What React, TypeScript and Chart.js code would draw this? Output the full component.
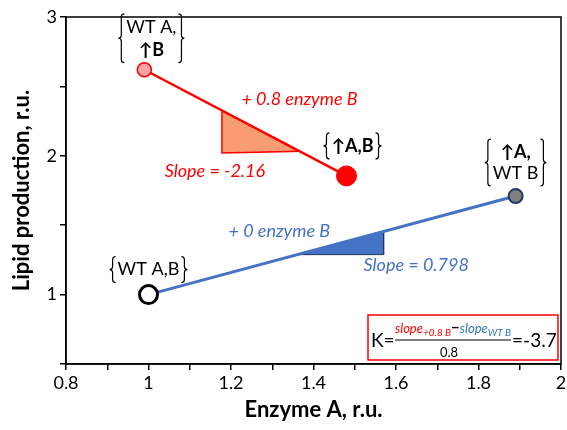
import React, { useEffect, useRef } from "react";
import { Chart, registerables } from "chart.js";

Chart.register(...registerables);

// ---- data ----
const pointNames = ["WT A,B", "↑A, WT B", "WT A, ↑B", "↑A,B"];
const enzymeA = [1.0, 1.89, 0.99, 1.48];
const lipid = [1.0, 1.71, 2.62, 1.855];

const blueLineX = [1.0, 1.89];
const blueLineY = [1.0, 1.71];
const redLineX = [0.99, 1.48];
const redLineY = [2.62, 1.855];

const redTriangleX = [1.178, 1.178, 1.366, 1.178];
const redTriangleY = [2.327, 2.02, 2.033, 2.327];
const blueTriangleX = [1.36, 1.57, 1.57, 1.36];
const blueTriangleY = [1.288, 1.455, 1.288, 1.288];

const xTickLabelsEvery = [0.8, 1, 1.2, 1.4, 1.6, 1.8, 2];
const yTickLabels = [1, 2, 3];

const redSlopeText = "Slope = -2.16";
const blueSlopeText = "Slope = 0.798";
const redSeriesText = "+ 0.8 enzyme B";
const blueSeriesText = "+ 0 enzyme B";
const kValueText = "=-3.7";

const FONT = "Lato, 'DejaVu Sans', sans-serif";

const toXY = (xs: number[], ys: number[]) => xs.map((x, i) => ({ x, y: ys[i] }));

function brace(ctx: CanvasRenderingContext2D, x: number, top: number, bottom: number, left: boolean) {
  const w = 3;
  const mid = (top + bottom) / 2;
  const d = left ? 1 : -1;
  ctx.beginPath();
  ctx.moveTo(x + d * w, top);
  ctx.quadraticCurveTo(x, top, x, top + w);
  ctx.lineTo(x, mid - w);
  ctx.quadraticCurveTo(x, mid, x - d * w, mid);
  ctx.quadraticCurveTo(x, mid, x, mid + w);
  ctx.lineTo(x, bottom - w);
  ctx.quadraticCurveTo(x, bottom, x + d * w, bottom);
  ctx.stroke();
}

type Seg = { t: string; bold: boolean };

function drawLabel(
  ctx: CanvasRenderingContext2D,
  cx: number,
  lineCenters: number[],
  lines: Seg[][],
  size: number
) {
  ctx.save();
  ctx.fillStyle = "#000";
  ctx.textBaseline = "middle";
  ctx.textAlign = "left";
  let maxW = 0;
  const widths = lines.map((segs) => {
    let w = 0;
    segs.forEach((s) => {
      ctx.font = `${s.bold ? "bold " : ""}${size}px ${FONT}`;
      w += ctx.measureText(s.t).width;
    });
    maxW = Math.max(maxW, w);
    return w;
  });
  lines.forEach((segs, i) => {
    let x = cx - widths[i] / 2;
    segs.forEach((s) => {
      ctx.font = `${s.bold ? "bold " : ""}${size}px ${FONT}`;
      ctx.fillText(s.t, x, lineCenters[i]);
      x += ctx.measureText(s.t).width;
    });
  });
  const top = lineCenters[0] - size * 0.72;
  const bottom = lineCenters[lineCenters.length - 1] + size * 0.72;
  ctx.strokeStyle = "#000";
  ctx.lineWidth = 1.2;
  brace(ctx, cx - maxW / 2 - 5, top, bottom, true);
  brace(ctx, cx + maxW / 2 + 5, top, bottom, false);
  ctx.restore();
}

const annotationPlugin = {
  id: "annotations",
  afterDatasetsDraw(chart: any) {
    const ctx: CanvasRenderingContext2D = chart.ctx;
    const xs = chart.scales.x;
    const ys = chart.scales.y;
    const ca = chart.chartArea;

    // frame
    ctx.save();
    ctx.strokeStyle = "#000";
    ctx.lineWidth = 1.5;
    ctx.strokeRect(ca.left, ca.top, ca.right - ca.left, ca.bottom - ca.top);
    ctx.restore();

    const px = enzymeA.map((v) => xs.getPixelForValue(v));
    const py = lipid.map((v) => ys.getPixelForValue(v));
    const S = 18;

    // point labels
    drawLabel(ctx, px[0], [py[0] - 25], [[{ t: "WT A,B", bold: false }]], S);
    drawLabel(
      ctx,
      px[1],
      [py[1] - 44, py[1] - 23],
      [[{ t: "↑A,", bold: true }], [{ t: "WT B", bold: false }]],
      S
    );
    drawLabel(
      ctx,
      px[2] + 7,
      [py[2] - 43, py[2] - 20],
      [[{ t: "WT A,", bold: false }], [{ t: "↑B", bold: true }]],
      S
    );
    drawLabel(ctx, px[3] + 6, [py[3] - 30], [[{ t: "↑A,B", bold: true }]], S);

    // series annotations
    ctx.save();
    ctx.textAlign = "center";
    ctx.textBaseline = "middle";
    ctx.font = `italic 18px ${FONT}`;
    ctx.fillStyle = "#ff0000";
    ctx.fillText(redSeriesText, xs.getPixelForValue(1.366), ys.getPixelForValue(2.41));
    ctx.fillText(redSlopeText, xs.getPixelForValue(1.161), ys.getPixelForValue(1.892));
    ctx.fillStyle = "#4472c4";
    ctx.fillText(blueSeriesText, xs.getPixelForValue(1.317), ys.getPixelForValue(1.46));
    ctx.fillText(blueSlopeText, xs.getPixelForValue(1.649), ys.getPixelForValue(1.209));
    ctx.restore();

    // formula box
    const bx = ca.right - 193;
    const by = ca.bottom - 49;
    ctx.save();
    ctx.strokeStyle = "#ff0000";
    ctx.lineWidth = 1.5;
    ctx.strokeRect(bx, by, 190, 45);
    ctx.fillStyle = "#000";
    ctx.textBaseline = "alphabetic";
    ctx.textAlign = "left";
    ctx.font = `19px ${FONT}`;
    ctx.fillText("K=", bx + 3, by + 32);
    let x = bx + 27;
    const nb = by + 18;
    const seg = (t: string, font: string, color: string, dy = 0) => {
      ctx.font = font;
      ctx.fillStyle = color;
      ctx.fillText(t, x, nb + dy);
      x += ctx.measureText(t).width;
    };
    const fracStart = x;
    seg("slope", `italic 13px ${FONT}`, "#ff0000");
    seg("+0.8 B", `italic 10px ${FONT}`, "#ff0000", 3);
    seg("−", `bold 15px ${FONT}`, "#000");
    seg("slope", `italic 13px ${FONT}`, "#2e75b6");
    seg("WT B", `italic 10px ${FONT}`, "#2e75b6", 3);
    const fracEnd = x;
    ctx.strokeStyle = "#000";
    ctx.lineWidth = 1;
    ctx.beginPath();
    ctx.moveTo(fracStart, by + 25);
    ctx.lineTo(fracEnd, by + 25);
    ctx.stroke();
    ctx.fillStyle = "#000";
    ctx.font = `13px ${FONT}`;
    ctx.textAlign = "center";
    ctx.fillText("0.8", (fracStart + fracEnd) / 2 - 4, by + 42);
    ctx.textAlign = "left";
    ctx.font = `19px ${FONT}`;
    ctx.fillText(kValueText, fracEnd + 1, by + 32);
    ctx.restore();
  },
};

const CANVAS_W = 573;

export default function App() {
  const ref = useRef<HTMLCanvasElement>(null);
  useEffect(() => {
    if (!ref.current) return;
    const chart = new Chart(ref.current, {
      type: "scatter",
      data: {
        datasets: [
          {
            data: [{ x: enzymeA[0], y: lipid[0] }],
            pointRadius: 9,
            pointBackgroundColor: "#ffffff",
            pointBorderColor: "#000000",
            pointBorderWidth: 3,
            order: 0,
          },
          {
            data: [{ x: enzymeA[1], y: lipid[1] }],
            pointRadius: 7,
            pointBackgroundColor: "#7f7f7f",
            pointBorderColor: "#1f3864",
            pointBorderWidth: 2,
            order: 0,
          },
          {
            data: [{ x: enzymeA[2], y: lipid[2] }],
            pointRadius: 7,
            pointBackgroundColor: "#f8a3a3",
            pointBorderColor: "#ff0000",
            pointBorderWidth: 1.5,
            order: 0,
          },
          {
            data: [{ x: enzymeA[3], y: lipid[3] }],
            pointRadius: 10,
            pointBackgroundColor: "#ff0000",
            pointBorderColor: "#ff0000",
            pointBorderWidth: 1,
            order: 0,
          },
          {
            data: toXY(blueLineX, blueLineY),
            showLine: true,
            borderColor: "#4472c4",
            borderWidth: 3,
            pointRadius: 0,
            order: 1,
          },
          {
            data: toXY(redLineX, redLineY),
            showLine: true,
            borderColor: "#ff0000",
            borderWidth: 2.5,
            pointRadius: 0,
            order: 1,
          },
          {
            data: toXY(redTriangleX, redTriangleY),
            showLine: true,
            borderColor: "#ff0000",
            borderWidth: 1.5,
            backgroundColor: "#f89c72",
            fill: "shape",
            pointRadius: 0,
            order: 2,
          },
          {
            data: toXY(blueTriangleX, blueTriangleY),
            showLine: true,
            borderColor: "#1f3864",
            borderWidth: 1,
            backgroundColor: "#4472c4",
            fill: "shape",
            pointRadius: 0,
            order: 2,
          },
        ] as any,
      },
      options: {
        animation: false,
        responsive: false,
        layout: { padding: { top: 17, right: 2, left: 0, bottom: 0 } },
        plugins: {
          legend: { display: false },
          tooltip: { enabled: false },
        },
        scales: {
          x: {
            type: "linear",
            min: 0.8,
            max: 2,
            afterFit: (s: any) => {
              s.height = 66;
            },
            border: { display: true, color: "#000", width: 1.5 },
            grid: { drawOnChartArea: false, drawTicks: true, tickLength: 6, color: "#000", lineWidth: 1.5 },
            ticks: {
              stepSize: 0.1,
              autoSkip: false,
              maxRotation: 0,
              padding: 2,
              color: "#000",
              font: { family: FONT, size: 18 },
              callback: (v: any) => {
                const n = Number(Number(v).toFixed(1));
                return xTickLabelsEvery.some((t) => Math.abs(t - n) < 1e-6) ? String(n) : "";
              },
            },
            title: {
              display: true,
              text: "Enzyme A, r.u.",
              color: "#000",
              font: { family: FONT, size: 22, weight: "bold" },
              padding: { top: 0, bottom: 7 },
            },
          },
          y: {
            type: "linear",
            min: 0.5,
            max: 3,
            afterFit: (s: any) => {
              s.width = 66;
            },
            border: { display: true, color: "#000", width: 1.5 },
            grid: { drawOnChartArea: false, drawTicks: true, tickLength: 6, color: "#000", lineWidth: 1.5 },
            ticks: {
              stepSize: 0.5,
              autoSkip: false,
              padding: 3,
              color: "#000",
              font: { family: FONT, size: 18 },
              callback: (v: any) => {
                const n = Number(v);
                return yTickLabels.some((t) => Math.abs(t - n) < 1e-6) ? String(n) : "";
              },
            },
            title: {
              display: true,
              text: "Lipid production, r.u.",
              color: "#000",
              font: { family: FONT, size: 22, weight: "bold" },
              padding: { top: 9, bottom: 0 },
            },
          },
        },
      } as any,
      plugins: [annotationPlugin],
    });
    return () => chart.destroy();
  }, []);
  return (
    <div style={{ position: "absolute", left: 0, top: 0, width: 567, height: 430, overflow: "hidden" }}>
      <canvas ref={ref} width={CANVAS_W} height={430} style={{ width: CANVAS_W, height: 430, display: "block" }} />
    </div>
  );
}
